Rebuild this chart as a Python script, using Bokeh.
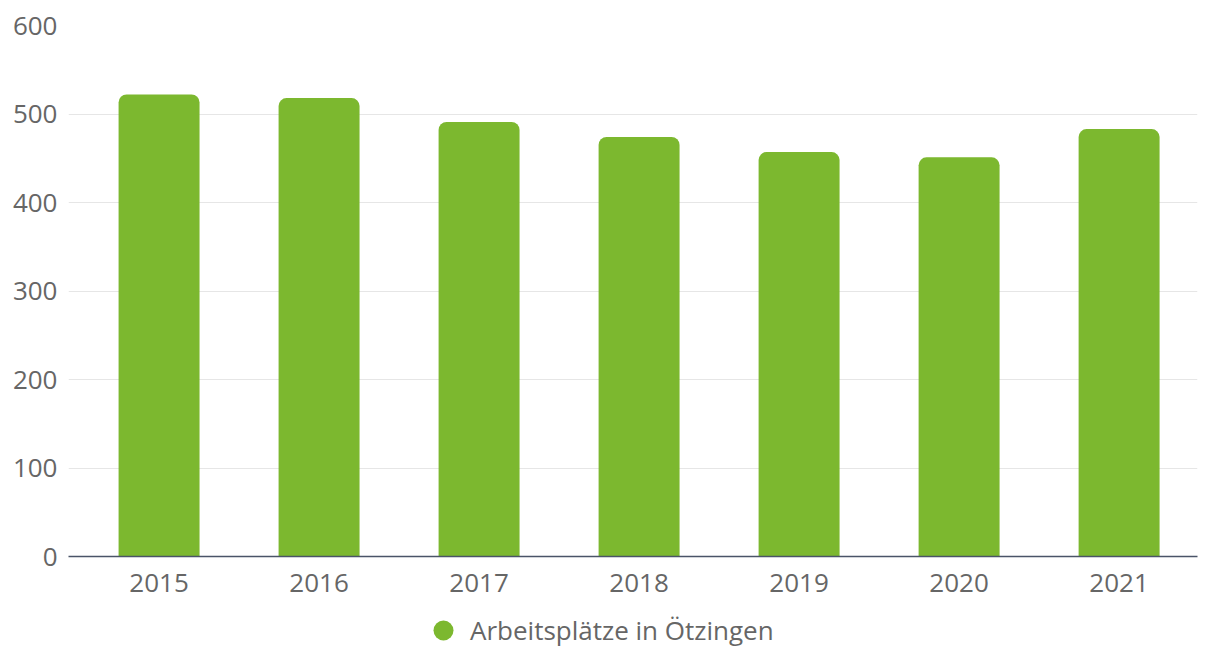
from bokeh.plotting import figure
from bokeh.layouts import column
from bokeh.models import Range1d, Legend, LegendItem, ColumnDataSource, FixedTicker
from bokeh.embed import file_html
from bokeh.resources import INLINE

# ---- data ----
years = ["2015", "2016", "2017", "2018", "2019", "2020", "2021"]
jobs = [522, 518, 491, 474, 457, 451, 483]
y_ticks = [0, 100, 200, 300, 400, 500, 600]
series_name = "Arbeitsplätze in Ötzingen"

GREEN = "#7cb82f"
TEXT = "#666666"
FONT = "Open Sans"

xs = list(range(len(years)))
src = ColumnDataSource(data=dict(x=xs, top=jobs, year=years))

p = figure(
    width=1205, height=605,
    output_backend="svg", toolbar_location=None,
    x_range=Range1d(-0.566, 6.49), y_range=Range1d(0, 600),
    min_border_left=68, min_border_right=8, min_border_top=25, min_border_bottom=49,
    background_fill_color="white", border_fill_color="white",
)
p.outline_line_color = None

bars = p.vbar(x="x", top="top", width=0.506, source=src,
              fill_color=GREEN, line_color=None, border_radius=(8, 8, 0, 0))

# y axis
p.yaxis.ticker = FixedTicker(ticks=y_ticks)
p.yaxis.axis_line_color = None
p.yaxis.major_tick_line_color = None
p.yaxis.minor_tick_line_color = None
p.yaxis.major_label_text_color = TEXT
p.yaxis.major_label_text_font = FONT
p.yaxis.major_label_text_font_size = "26px"
p.yaxis.major_label_standoff = 5

# x axis
p.xaxis.ticker = FixedTicker(ticks=xs)
p.xaxis.major_label_overrides = {i: y for i, y in zip(xs, years)}
p.xaxis.axis_line_color = "#4a5468"
p.xaxis.axis_line_width = 1.4
p.xaxis.major_tick_line_color = None
p.xaxis.minor_tick_line_color = None
p.xaxis.major_label_text_color = TEXT
p.xaxis.major_label_text_font = FONT
p.xaxis.major_label_text_font_size = "26px"
p.xaxis.major_label_standoff = 11

p.xgrid.grid_line_color = None
p.ygrid.grid_line_color = "#e6e6e6"
p.ygrid.grid_line_width = 1

# legend strip (separate figure so it is not clipped by the main frame)
lf = figure(
    width=1205, height=41,
    output_backend="svg", toolbar_location=None,
    x_range=Range1d(0, 1), y_range=Range1d(0, 1),
    min_border=0, background_fill_color="white", border_fill_color="white",
)
lf.outline_line_color = None
lf.axis.visible = False
lf.grid.visible = False
# legend key renderer: one point placed outside the visible range
dot = lf.scatter(x=[-5], y=[-5], marker="circle", size=20, fill_color=GREEN, line_color=None)
legend = Legend(
    items=[LegendItem(label=series_name, renderers=[dot])],
    location=(350, -9),
    orientation="horizontal",
    glyph_width=50, glyph_height=50,
    label_standoff=2,
    label_text_font=FONT, label_text_font_size="26px", label_text_color=TEXT,
    padding=0, margin=0, spacing=0,
    border_line_color=None, background_fill_alpha=0,
)
lf.add_layout(legend, "center")

layout = column(p, lf, spacing=0)
open("out.html", "w").write(file_html(layout, INLINE))
